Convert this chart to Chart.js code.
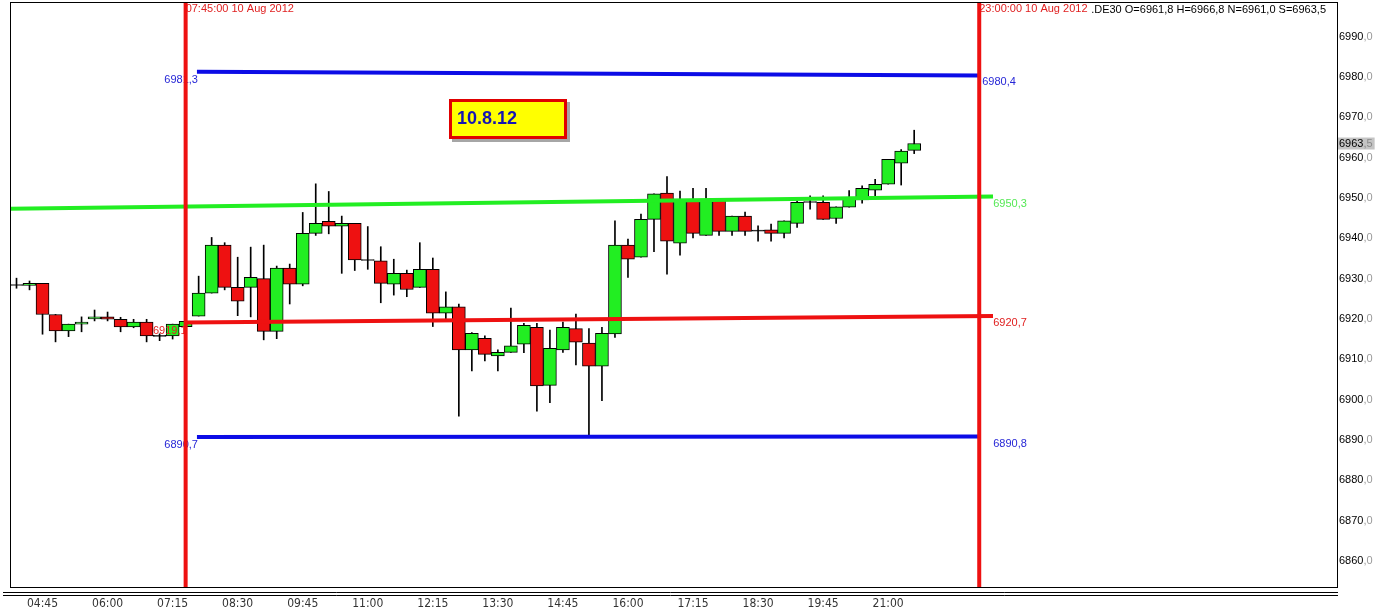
<!DOCTYPE html>
<html>
<head>
<meta charset="utf-8">
<script src="https://cdn.jsdelivr.net/npm/chart.js@4.4.1/dist/chart.umd.min.js"></script>
<style>
  html, body { margin: 0; padding: 0; background: #fff; }
  #wrap { width: 1377px; height: 612px; position: relative; }
</style>
</head>
<body>
<div id="wrap"><canvas id="c"></canvas></div>
<script>
// .DE30, bougies 15 min du 10 Aug 2012 (index 0 = 04:15)
const OPEN  = [6928.4, 6928.3, 6928.8, 6921.1, 6917.0, 6918.7, 6920.0, 6920.5, 6919.9, 6918.0,
               6919.2, 6915.8, 6915.8, 6918.1, 6920.7, 6926.4, 6938.3, 6927.8, 6927.8, 6930.0,
               6916.9, 6932.6, 6928.6, 6941.2, 6944.2, 6943.0, 6943.7, 6934.6, 6934.4, 6928.6,
               6931.3, 6927.8, 6932.3, 6921.4, 6923.0, 6912.3, 6915.2, 6910.8, 6911.7, 6913.7,
               6917.9, 6903.5, 6912.3, 6917.6, 6914.0, 6908.3, 6916.3, 6938.3, 6935.3, 6944.7,
               6951.2, 6938.8, 6949.7, 6940.7, 6949.7, 6941.7, 6945.5, 6941.9, 6942.1, 6941.2,
               6943.7, 6949.0, 6948.9, 6944.9, 6947.7, 6949.5, 6951.9, 6953.4, 6958.6, 6961.8];
const HIGH  = [6930.1, 6929.4, 6928.8, 6921.1, 6918.7, 6920.5, 6922.2, 6921.7, 6920.4, 6919.9,
               6919.9, 6916.3, 6918.7, 6919.6, 6930.6, 6940.2, 6938.9, 6935.3, 6937.8, 6938.3,
               6933.1, 6933.6, 6946.4, 6953.5, 6951.6, 6945.5, 6943.7, 6942.9, 6937.9, 6934.8,
               6932.1, 6938.9, 6935.1, 6926.7, 6923.7, 6916.6, 6915.8, 6912.3, 6922.7, 6918.9,
               6918.9, 6917.2, 6919.2, 6921.2, 6917.6, 6917.9, 6944.3, 6939.8, 6946.0, 6951.0,
               6955.3, 6951.7, 6952.4, 6952.4, 6949.9, 6945.5, 6946.5, 6943.1, 6943.5, 6944.3,
               6949.3, 6950.5, 6950.5, 6947.8, 6951.8, 6953.0, 6954.6, 6959.6, 6962.0, 6966.8];
const LOW   = [6927.6, 6927.2, 6916.2, 6914.3, 6915.6, 6916.8, 6919.5, 6919.5, 6916.8, 6917.8,
               6914.3, 6914.6, 6915.0, 6917.9, 6920.7, 6926.4, 6927.2, 6920.8, 6920.5, 6914.8,
               6915.1, 6923.7, 6928.2, 6940.7, 6941.1, 6931.3, 6932.0, 6932.3, 6924.0, 6925.9,
               6925.5, 6927.8, 6918.1, 6920.0, 6895.9, 6907.1, 6909.6, 6907.1, 6911.7, 6911.6,
               6897.1, 6899.2, 6911.7, 6908.6, 6891.0, 6899.7, 6915.4, 6930.3, 6935.3, 6936.7,
               6931.1, 6935.8, 6940.1, 6940.7, 6940.7, 6940.7, 6940.7, 6939.3, 6939.3, 6940.1,
               6942.7, 6947.2, 6944.7, 6943.7, 6947.7, 6948.7, 6950.5, 6953.4, 6953.2, 6961.0];
const CLOSE = [6928.4, 6928.8, 6921.1, 6917.0, 6918.7, 6919.2, 6920.5, 6919.9, 6918.0, 6919.2,
               6915.8, 6915.8, 6918.7, 6919.4, 6926.4, 6938.3, 6927.8, 6924.4, 6930.3, 6916.9,
               6932.6, 6928.6, 6941.2, 6943.7, 6943.0, 6943.7, 6934.6, 6934.6, 6928.8, 6931.3,
               6927.3, 6932.3, 6921.4, 6923.0, 6912.3, 6916.4, 6911.2, 6911.7, 6913.3, 6918.4,
               6903.4, 6912.7, 6917.9, 6914.2, 6908.3, 6916.4, 6938.3, 6934.8, 6944.7, 6951.0,
               6939.3, 6949.7, 6941.2, 6949.7, 6941.7, 6945.5, 6941.7, 6941.9, 6941.2, 6944.3,
               6948.9, 6949.0, 6944.7, 6947.8, 6949.8, 6952.4, 6953.4, 6959.6, 6961.6, 6963.5];

const X_TICK_IDX    = [2, 7, 12, 17, 22, 27, 32, 37, 42, 47, 52, 57, 62, 67];
const X_TICK_LABELS = ['04:45', '06:00', '07:15', '08:30', '09:45', '11:00', '12:15',
                       '13:30', '14:45', '16:00', '17:15', '18:30', '19:45', '21:00'];
const Y_TICKS = [6860, 6870, 6880, 6890, 6900, 6910, 6920, 6930, 6940, 6950, 6960, 6970, 6980, 6990];

// lignes de niveau : [début, fin] en index de bougie / en prix
const LEVEL_X = [[13.87, 74], [13.87, 74], [-0.5, 75.06], [13, 75.06]];
const LEVEL_Y = [[6981.3, 6980.4], [6890.7, 6890.8], [6947.3, 6950.35], [6919.1, 6920.73]];
const LEVEL_LEFT_TXT  = ['6981,3', '6890,7', null, '6919,1'];
const LEVEL_RIGHT_TXT = ['6980,4', '6890,8', '6950,3', '6920,7'];
const LEVEL_COLORS = ['#0c0ce6', '#0c0ce6', '#22ee22', '#ee1111'];
const LEVEL_TXT_COLORS = ['#2626d6', '#2626d6', '#55e855', '#e02020'];

const VLINE_IDX = [13, 74];
const VLINE_TXT = ['07:45:00 10 Aug 2012', '23:00:00 10 Aug 2012'];
const HEADER = '.DE30 O=6961,8 H=6966,8 N=6961,0 S=6963,5';
const LAST_PRICE = 6963.5;
const Y_MIN = 6853.5, Y_MAX = 6998.6;

const GREEN = '#22ee22', RED = '#ee1111';
const FONT = "'Liberation Sans', Arial, sans-serif";
// décalage des étiquettes de droite par rapport au trait vertical de fin
const RIGHT_LBL_DX = [3, 14, 14, 14];

const wicks = OPEN.map((o, i) => ({ x: i, y: [LOW[i], HIGH[i]] }));
const bodies = OPEN.map((o, i) => {
  const c = CLOSE[i];
  if (Math.abs(c - o) < 0.05) return { x: i, y: [o - 0.12, o + 0.12] };
  return { x: i, y: [o, c] };
});
const bodyColors = OPEN.map((o, i) => CLOSE[i] > o + 0.05 ? GREEN : (CLOSE[i] < o - 0.05 ? RED : '#000'));

const levelSets = LEVEL_X.map((xs, k) => ({
  type: 'line',
  data: [{ x: xs[0], y: LEVEL_Y[k][0] }, { x: xs[1], y: LEVEL_Y[k][1] }],
  borderColor: LEVEL_COLORS[k], borderWidth: 4, pointRadius: 0, order: 2,
}));

const vlineData = [];
VLINE_IDX.forEach((v, k) => {
  if (k) vlineData.push({ x: (VLINE_IDX[k - 1] + v) / 2, y: null });
  vlineData.push({ x: v, y: Y_MIN }, { x: v, y: Y_MAX });
});

function txt(ctx, s, x, y, color, font, align) {
  ctx.font = font; ctx.fillStyle = color; ctx.textAlign = align || 'left'; ctx.textBaseline = 'middle';
  ctx.fillText(s, x, y);
}

const overlay = {
  id: 'overlay',
  // étiquettes posées sous les traits rouges verticaux
  beforeDatasetDraw(chart, args) {
    if (chart.data.datasets[args.index].role !== 'vlines') return;
    const { ctx, scales: { x, y } } = chart;
    const xEnd = x.getPixelForValue(VLINE_IDX[1]);
    ctx.save();
    LEVEL_X.forEach((xs, k) => {
      const x0 = x.getPixelForValue(xs[0]);
      const y0 = y.getPixelForValue(LEVEL_Y[k][0]), y1 = y.getPixelForValue(LEVEL_Y[k][1]);
      if (LEVEL_LEFT_TXT[k]) txt(ctx, LEVEL_LEFT_TXT[k], x0 + 1, y0 + 8, LEVEL_TXT_COLORS[k], '11px ' + FONT, 'right');
      txt(ctx, LEVEL_RIGHT_TXT[k], xEnd + RIGHT_LBL_DX[k], y1 + 7, LEVEL_TXT_COLORS[k], '11px ' + FONT);
    });
    VLINE_IDX.forEach((v, k) => {
      txt(ctx, VLINE_TXT[k], x.getPixelForValue(v), 9, '#e02020', '11px ' + FONT);
    });
    ctx.restore();
  },
  afterDraw(chart) {
    const { ctx, chartArea: a, scales: { y } } = chart;
    ctx.save();
    // cadre + double trait du bas
    ctx.strokeStyle = '#000'; ctx.lineWidth = 1;
    ctx.strokeRect(a.left + 0.5, a.top + 0.5, a.right - a.left, a.bottom - a.top);
    ctx.beginPath();
    ctx.moveTo(3, 592.5); ctx.lineTo(a.right + 1, 592.5);
    ctx.moveTo(3, 595.5); ctx.lineTo(a.right + 1, 595.5);
    ctx.stroke();
    // graduations de droite
    Y_TICKS.forEach((v) => {
      const py = y.getPixelForValue(v);
      txt(ctx, String(v), a.right + 2, py, '#000', '11px ' + FONT);
      const w = ctx.measureText(String(v)).width;
      txt(ctx, ',0', a.right + 2 + w, py, '#9a9a9a', '11px ' + FONT);
    });
    // dernier cours
    const lp = y.getPixelForValue(LAST_PRICE);
    const [ip, dp] = LAST_PRICE.toFixed(1).split('.');
    ctx.font = '11px ' + FONT;
    const wi = ctx.measureText(ip).width, wd = ctx.measureText(',' + dp).width;
    ctx.fillStyle = '#c4c4c4';
    ctx.fillRect(a.right + 1, lp - 6, wi + wd + 3, 12);
    txt(ctx, ip, a.right + 2, lp, '#000', '11px ' + FONT);
    txt(ctx, ',' + dp, a.right + 2 + wi, lp, '#8a8a8a', '11px ' + FONT);
    // entête
    txt(ctx, HEADER, a.right - 11, 10, '#000', '11px ' + FONT, 'right');
    // cartouche date
    ctx.fillStyle = 'rgba(0,0,0,0.35)';
    ctx.fillRect(452, 102, 118, 40);
    ctx.fillStyle = '#ffff00';
    ctx.fillRect(449, 99, 118, 40);
    ctx.strokeStyle = '#e00000'; ctx.lineWidth = 3;
    ctx.strokeRect(450.5, 100.5, 115, 37);
    txt(ctx, '10.8.12', 457, 119, '#1414b4', 'bold 18px ' + FONT);
    ctx.restore();
  },
};

new Chart(document.getElementById('c'), {
  type: 'bar',
  data: {
    datasets: [
      { type: 'bar', data: wicks, backgroundColor: '#000', barThickness: 1, grouped: false, order: 4 },
      { type: 'bar', data: bodies, backgroundColor: bodyColors, borderColor: '#000', borderWidth: 1,
        borderSkipped: false, barThickness: 13, grouped: false, order: 3 },
      ...levelSets,
      { type: 'line', role: 'vlines', data: vlineData, borderColor: RED, borderWidth: 4,
        pointRadius: 0, spanGaps: false, order: 1 },
    ],
  },
  options: {
    responsive: true, maintainAspectRatio: false, animation: false,
    layout: { padding: { left: 10, top: 2, right: 0, bottom: 0 } },
    plugins: { legend: { display: false }, tooltip: { enabled: false } },
    scales: {
      x: {
        type: 'linear', min: -0.5, max: 101.5, offset: false,
        grid: { display: false, drawTicks: false }, border: { display: false },
        afterBuildTicks: (s) => { s.ticks = X_TICK_IDX.map((v) => ({ value: v })); },
        ticks: {
          autoSkip: false, maxRotation: 0, padding: 10, color: '#333',
          font: { family: "'Liberation Sans Narrow', 'DejaVu Sans Condensed', sans-serif", size: 12 },
          callback: (v) => X_TICK_LABELS[X_TICK_IDX.indexOf(v)],
        },
        afterFit: (s) => { s.height = 25; },
      },
      y: {
        type: 'linear', position: 'right', min: Y_MIN, max: Y_MAX,
        grid: { display: false }, border: { display: false }, ticks: { display: false },
        afterFit: (s) => { s.width = 40; },
      },
    },
  },
  plugins: [overlay],
});
</script>
</body>
</html>
